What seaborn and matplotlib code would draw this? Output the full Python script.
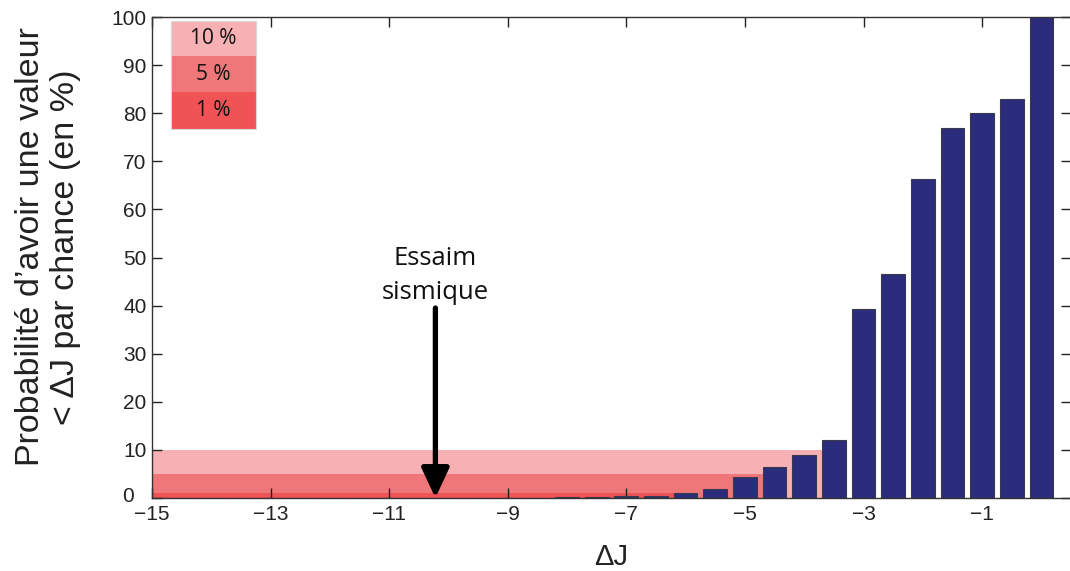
import numpy as np
import pandas as pd
import matplotlib
matplotlib.use("Agg")
import matplotlib.pyplot as plt
from matplotlib.patches import Rectangle
from matplotlib.transforms import ScaledTranslation
import seaborn as sns

# data
delta_j = [-15, -14.5, -14, -13.5, -13, -12.5, -12, -11.5, -11, -10.5,
           -10, -9.5, -9, -8.5, -8, -7.5, -7, -6.5, -6, -5.5,
           -5, -4.5, -4, -3.5, -3, -2.5, -2, -1.5, -1, -0.5, 0]
proba = [0, 0, 0, 0, 0, 0, 0, 0, 0, 0,
         0, 0.05, 0, 0, 0.1, 0.1, 0.3, 0.3, 1.1, 1.9,
         4.3, 6.4, 9.0, 12.1, 39.3, 46.6, 66.4, 76.9, 80.0, 83.0, 100]

# significance thresholds (shaded bands) and where each band stops
seuils = [10, 5, 1]
seuil_labels = ["10 %", "5 %", "1 %"]
seuil_colors = ["#f7b0b3", "#f07779", "#ef5356"]
seuil_fin = [-3.7, -4.7, -6.2]

x_ticks = [-15, -13, -11, -9, -7, -5, -3, -1]
y_ticks = list(range(0, 101, 10))

essaim_x = -10.22
essaim_y = 39.5

df = pd.DataFrame({"dj": delta_j, "p": proba})

sns.set_theme(style="white")
plt.rcParams["font.family"] = ["Liberation Sans", "DejaVu Sans"]
plt.rcParams["xtick.direction"] = "in"
plt.rcParams["ytick.direction"] = "in"

fig = plt.figure(figsize=(10.7, 5.71), dpi=100)
ax = fig.add_axes([0.142, 0.128, 0.859, 0.842])

# shaded bands
for s, c, fin in zip(seuils, seuil_colors, seuil_fin):
    ax.fill_between([-15, fin], 0, s, color=c, lw=0, zorder=0)

sns.barplot(
        data=df,
        x="dj",
        y="p",
        native_scale=True,
        color="#2b2c7c",
        saturation=1,
        edgecolor="#3a3a4a",
        linewidth=0.8,
        ax=ax,
        zorder=2,
        )

ax.set_xlim(-15, 0.5)
ax.set_ylim(0, 100)
ax.set_xticks(x_ticks)
ax.set_yticks(y_ticks)
ax.tick_params(axis="both", labelsize=15, colors="#222222", length=7,
               width=1, top=True, right=True, bottom=True, left=True)
ax.tick_params(axis="x", pad=5)
ax.tick_params(axis="y", pad=4)
for sp in ax.spines.values():
    sp.set_color("#333333")
    sp.set_linewidth(1.0)

# nudge the "0" label left and up, like the original
zero_lab = ax.get_yticklabels()[0]
zero_lab.set_transform(zero_lab.get_transform()
                       + ScaledTranslation(-0.13, 0.03, fig.dpi_scale_trans))

ax.set_xlabel("ΔJ", fontsize=21, color="#222222")
ax.xaxis.set_label_coords(0.5, -0.094)
ax.set_ylabel("Probabilité d\u2019avoir une valeur\n< ΔJ par chance (en %)",
              fontsize=24.5, color="#222222", linespacing=1.18)
ax.yaxis.set_label_coords(-0.077, 0.522)

# arrow for the swarm
ax.annotate("", xy=(essaim_x, 0), xytext=(essaim_x, essaim_y),
            arrowprops=dict(arrowstyle="-|>,head_length=1.5,head_width=0.7",
                            color="black", lw=3.8, shrinkA=0, shrinkB=0),
            zorder=5)
ax.text(essaim_x, essaim_y + 0.7, "Essaim\nsismique", ha="center", va="bottom",
        fontsize=18.5, family=["Open Sans", "DejaVu Sans"], linespacing=1.45,
        color="#111111")

# legend box
x0, x1 = 0.0207, 0.1133
rows = [0.9917, 0.919, 0.844, 0.767]
for i, (lab, c) in enumerate(zip(seuil_labels, seuil_colors)):
    top, bot = rows[i], rows[i + 1]
    ax.add_patch(Rectangle((x0, bot), x1 - x0, top - bot, transform=ax.transAxes,
                           facecolor=c, edgecolor="none", zorder=6))
    ax.text((x0 + x1) / 2, (top + bot) / 2, lab, transform=ax.transAxes,
            ha="center", va="center", fontsize=15,
            family=["Open Sans", "DejaVu Sans"], color="#111111", zorder=7)
ax.add_patch(Rectangle((x0, rows[-1]), x1 - x0, rows[0] - rows[-1],
                       transform=ax.transAxes, facecolor="none",
                       edgecolor="#d8d8d8", lw=0.8, zorder=8))

fig.savefig("out.png", dpi=100)
